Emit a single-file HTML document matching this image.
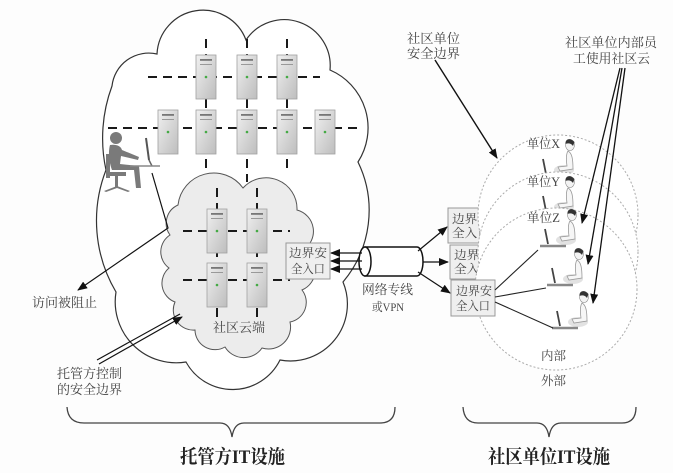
<!DOCTYPE html>
<html><head><meta charset="utf-8">
<style>
html,body{margin:0;padding:0;background:#fdfdfd;}
svg{display:block;}
text{font-family:"Liberation Serif","Noto Serif CJK SC",serif;fill:#444;}
</style></head>
<body>
<svg width="673" height="473" viewBox="0 0 673 473" xmlns="http://www.w3.org/2000/svg">
<defs>
<linearGradient id="sg" x1="0" y1="0" x2="1" y2="1">
<stop offset="0" stop-color="#f0f0f0"/><stop offset="1" stop-color="#bdbdbd"/>
</linearGradient>
<g id="srv">
<rect x="0" y="0" width="20" height="44" fill="url(#sg)" stroke="#a0a0a0" stroke-width="0.8"/>
<rect x="4" y="4" width="12" height="1.8" fill="#777"/>
<rect x="4" y="9" width="12" height="1" fill="#999"/>
<circle cx="10" cy="22" r="1.3" fill="#4a4"/>
</g>
<marker id="ah" markerWidth="10" markerHeight="8" refX="9" refY="4" orient="auto" markerUnits="userSpaceOnUse">
<path d="M0,0 L10,4 L0,8 z" fill="#111"/>
</marker>
<g id="person">
<ellipse cx="-6" cy="25" rx="10" ry="5" fill="#e2e2e2"/>
<path d="M-2,6 C2,8 3,14 3,24 L-10,26 L-12,22 L-3,21 C-4,14 -4,9 -2,6 Z" fill="#f6f6f6" stroke="#999" stroke-width="0.8"/>
<ellipse cx="0" cy="0" rx="4.5" ry="5.5" fill="#f3f3f3" stroke="#888" stroke-width="0.6"/>
<path d="M-4.5,-1 C-5,-6 0,-8 4.5,-3 L3,1 C1,-2 -2,-2 -4.5,-1 Z" fill="#333"/>
<line x1="-27" y1="14" x2="-24" y2="29" stroke="#444" stroke-width="1.8"/>
<line x1="-32" y1="31" x2="-6" y2="31" stroke="#888" stroke-width="2.5"/>
</g>
</defs>

<!-- outer cloud -->
<path d="M106,170 A150,150 0 0 1 112,86 A37,37 0 0 1 157,54 A46,46 0 0 1 246,40 A46,46 0 0 1 330,70 A63,63 0 0 1 358,162 A111,111 0 0 1 343,282 A57,57 0 0 1 280,360 A53,53 0 0 1 186,362 A61,61 0 0 1 116,292 A140,140 0 0 1 106,170 Z" fill="#fff" stroke="#333" stroke-width="1.2"/>

<!-- dashed grid outer -->
<g stroke="#1a1a1a" stroke-width="2" stroke-dasharray="9,6" fill="none">
<line x1="148" y1="77" x2="320" y2="77"/>
<line x1="108" y1="128" x2="360" y2="128"/>
<line x1="206" y1="39" x2="206" y2="170"/>
<line x1="247" y1="39" x2="247" y2="182"/>
<line x1="287" y1="39" x2="287" y2="170"/>
</g>
<use href="#srv" x="196" y="55"/>
<use href="#srv" x="237" y="55"/>
<use href="#srv" x="277" y="55"/>
<use href="#srv" x="158" y="110"/>
<use href="#srv" x="196" y="110"/>
<use href="#srv" x="237" y="110"/>
<use href="#srv" x="277" y="110"/>
<use href="#srv" x="315" y="110"/>

<!-- left person -->
<g fill="#7a7a7a">
<circle cx="116" cy="138" r="6"/>
<path d="M110,145 C108,152 109,162 112,170 L134,170 L136,188 L141,188 L139,166 L120,164 L121,156 L138,160 L139,157 L122,150 C121,146 116,144 110,145 Z"/>
<rect x="106" y="154" width="4" height="24"/>
<rect x="108" y="172" width="18" height="4"/>
<rect x="115" y="176" width="3" height="11"/>
<path d="M104,191 L117,186 L130,191 L128,192 L117,188 L106,192 Z"/>
</g>
<line x1="146" y1="138" x2="149" y2="160" stroke="#555" stroke-width="2"/>
<line x1="149" y1="160" x2="152" y2="166" stroke="#666" stroke-width="1.5"/>
<line x1="130" y1="166" x2="160" y2="166" stroke="#888" stroke-width="1.5"/>

<!-- inner cloud -->
<path d="M178,205 A36,36 0 0 1 243,188 A31,31 0 0 1 297,210 A22,22 0 0 1 303,250 A22,22 0 0 1 302,290 A20,20 0 0 1 290,322 A22,22 0 0 1 262,348 A22,22 0 0 1 225,347 A20,20 0 0 1 195,330 A20,20 0 0 1 175,302 A20,20 0 0 1 169,268 A20,20 0 0 1 170,235 A20,20 0 0 1 178,205 Z" fill="#ececec" stroke="#555" stroke-width="1"/>
<g stroke="#1a1a1a" stroke-width="2" stroke-dasharray="9,6" fill="none">
<line x1="183" y1="231" x2="290" y2="231"/>
<line x1="183" y1="280" x2="290" y2="280"/>
<line x1="217" y1="188" x2="217" y2="318"/>
<line x1="257" y1="188" x2="257" y2="318"/>
</g>
<use href="#srv" x="207" y="209"/>
<use href="#srv" x="247" y="209"/>
<use href="#srv" x="207" y="263"/>
<use href="#srv" x="247" y="263"/>
<text x="213" y="332" font-size="13" textLength="52" lengthAdjust="spacingAndGlyphs">社区云端</text>

<!-- left border box -->
<rect x="286" y="243" width="44" height="36" fill="#efefef" stroke="#999" stroke-width="1"/>
<text x="289" y="257" font-size="12" textLength="38" lengthAdjust="spacingAndGlyphs">边界安</text>
<text x="291" y="273" font-size="12" textLength="34" lengthAdjust="spacingAndGlyphs">全入口</text>

<!-- cylinder -->
<path d="M365,247 L417,247 A6,14.5 0 0 1 417,276 L365,276 Z" fill="#fff" stroke="#111" stroke-width="1.5"/>
<ellipse cx="365" cy="261.5" rx="6" ry="14.5" fill="#fff" stroke="#111" stroke-width="1.5"/>
<g stroke="#111" stroke-width="1.2" marker-end="url(#ah)">
<line x1="362" y1="253" x2="331" y2="253"/>
<line x1="362" y1="261" x2="331" y2="261"/>
<line x1="362" y1="269" x2="331" y2="269"/>
</g>
<text x="362" y="294" font-size="13" textLength="51" lengthAdjust="spacingAndGlyphs">网络专线</text>
<text x="372" y="311" font-size="12" textLength="32" lengthAdjust="spacingAndGlyphs">或VPN</text>

<!-- right boxes 1,2 (behind circles) -->
<rect x="448" y="208" width="50" height="35" fill="#efefef" stroke="#999" stroke-width="1"/>
<text x="452" y="223" font-size="12" textLength="38" lengthAdjust="spacingAndGlyphs">边界安</text>
<text x="452" y="237" font-size="12" textLength="38" lengthAdjust="spacingAndGlyphs">全入口</text>
<rect x="450" y="245" width="50" height="34" fill="#efefef" stroke="#999" stroke-width="1"/>
<text x="454" y="259" font-size="12" textLength="38" lengthAdjust="spacingAndGlyphs">边界安</text>
<text x="454" y="273" font-size="12" textLength="38" lengthAdjust="spacingAndGlyphs">全入口</text>

<!-- circles & persons -->
<circle cx="558" cy="215" r="80" fill="#fff" stroke="#aaa" stroke-width="1" stroke-dasharray="2,2"/>
<text x="527" y="148" font-size="12.5" textLength="33" lengthAdjust="spacingAndGlyphs">单位X</text>
<use href="#person" x="570" y="145"/>
<circle cx="558" cy="252" r="80" fill="#fff" stroke="#aaa" stroke-width="1" stroke-dasharray="2,2"/>
<text x="527" y="186" font-size="12.5" textLength="33" lengthAdjust="spacingAndGlyphs">单位Y</text>
<use href="#person" x="570" y="182"/>
<circle cx="556" cy="289" r="81" fill="#fff" stroke="#aaa" stroke-width="1" stroke-dasharray="2,2"/>
<text x="527" y="222" font-size="12.5" textLength="33" lengthAdjust="spacingAndGlyphs">单位Z</text>
<use href="#person" x="572" y="215"/>
<use href="#person" x="579" y="254"/>
<use href="#person" x="584" y="297"/>

<!-- box 3 -->
<rect x="451" y="280" width="44" height="36" fill="#efefef" stroke="#999" stroke-width="1"/>
<text x="456" y="295" font-size="12" textLength="36" lengthAdjust="spacingAndGlyphs">边界安</text>
<text x="456" y="310" font-size="12" textLength="34" lengthAdjust="spacingAndGlyphs">全入口</text>
<g stroke="#222" stroke-width="1.1">
<line x1="495" y1="290" x2="538" y2="250"/>
<line x1="495" y1="297" x2="546" y2="288"/>
<line x1="495" y1="302" x2="553" y2="328"/>
</g>

<!-- cylinder to right boxes -->
<g stroke="#111" stroke-width="1.2" marker-end="url(#ah)">
<line x1="418" y1="251" x2="447" y2="227"/>
<line x1="423" y1="262" x2="448" y2="262"/>
<line x1="418" y1="272" x2="450" y2="293"/>
</g>

<text x="541" y="360" font-size="12.5" textLength="25" lengthAdjust="spacingAndGlyphs">内部</text>
<text x="541" y="385" font-size="12.5" textLength="25" lengthAdjust="spacingAndGlyphs">外部</text>

<!-- top right labels & arrows -->
<text x="407" y="43" font-size="13" textLength="53" lengthAdjust="spacingAndGlyphs">社区单位</text>
<text x="407" y="58" font-size="13" textLength="53" lengthAdjust="spacingAndGlyphs">安全边界</text>
<line x1="435" y1="60" x2="497" y2="158" stroke="#111" stroke-width="1.4" marker-end="url(#ah)"/>
<text x="565" y="47" font-size="13" textLength="92" lengthAdjust="spacingAndGlyphs">社区单位内部员</text>
<text x="573" y="63" font-size="13" textLength="77" lengthAdjust="spacingAndGlyphs">工使用社区云</text>
<g stroke="#111" stroke-width="1.3" marker-end="url(#ah)">
<line x1="620" y1="68" x2="582" y2="223"/>
<line x1="622" y1="68" x2="588" y2="264"/>
<line x1="625" y1="68" x2="593" y2="303"/>
</g>

<!-- left labels & arrows -->
<polyline points="152,173 168,228 78,290" fill="none" stroke="#111" stroke-width="1.2" marker-end="url(#ah)"/>
<text x="32" y="307" font-size="13" textLength="65" lengthAdjust="spacingAndGlyphs">访问被阻止</text>
<line x1="97" y1="360" x2="180" y2="314" stroke="#111" stroke-width="1.2"/>
<line x1="99" y1="364" x2="182" y2="317" stroke="#111" stroke-width="1.2" marker-end="url(#ah)"/>
<text x="57" y="378" font-size="13" textLength="65" lengthAdjust="spacingAndGlyphs">托管方控制</text>
<text x="57" y="394" font-size="13" textLength="65" lengthAdjust="spacingAndGlyphs">的安全边界</text>

<!-- braces -->
<path d="M67,407 Q68,423 84,423 L220,423 Q230,423 232,437 Q234,423 244,423 L380,423 Q395,423 395,407" fill="none" stroke="#444" stroke-width="1.3"/>
<path d="M463,407 Q464,423 478,423 L537,423 Q547,423 549,437 Q551,423 561,423 L622,423 Q636,423 636,407" fill="none" stroke="#444" stroke-width="1.3"/>
<text x="180" y="463" font-size="19" font-weight="bold" textLength="105" lengthAdjust="spacingAndGlyphs" style="fill:#222">托管方IT设施</text>
<text x="488" y="463" font-size="19" font-weight="bold" textLength="122" lengthAdjust="spacingAndGlyphs" style="fill:#222">社区单位IT设施</text>
</svg>
</body></html>
